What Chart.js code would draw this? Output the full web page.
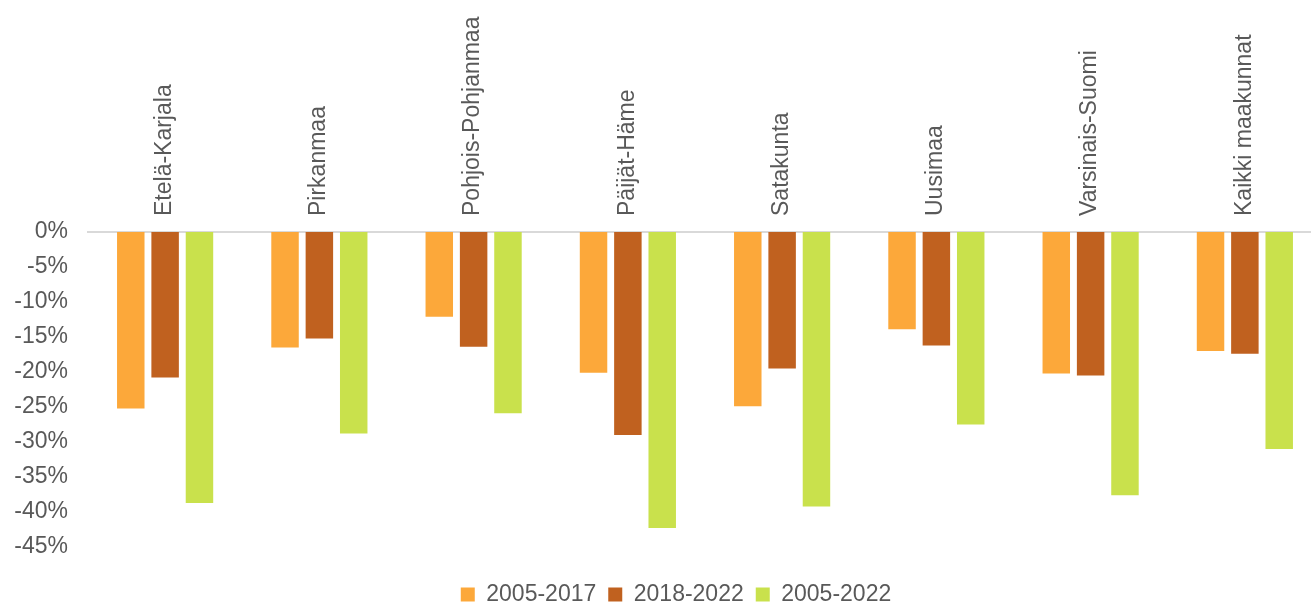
<!DOCTYPE html>
<html>
<head>
<meta charset="utf-8">
<script src="https://cdn.jsdelivr.net/npm/chart.js@4/dist/chart.umd.min.js"></script>
<style>
  html, body { margin: 0; padding: 0; background: #fff; overflow: hidden; }
  #wrap { width: 1352px; height: 616px; }
</style>
</head>
<body>
<div id="wrap"><canvas id="kaavio" width="1352" height="616"></canvas></div>
<script>
/* ---------- data ---------- */
const maakunnat = ['Etelä-Karjala', 'Pirkanmaa', 'Pohjois-Pohjanmaa', 'Päijät-Häme',
                   'Satakunta', 'Uusimaa', 'Varsinais-Suomi', 'Kaikki maakunnat'];
const sarjat = ['2005-2017', '2018-2022', '2005-2022'];
const muutos2005_2017 = [-25.2, -16.5, -12.1, -20.1, -24.9, -13.9, -20.2, -17.0];
const muutos2018_2022 = [-20.8, -15.2, -16.4, -29.0, -19.5, -16.2, -20.5, -17.4];
const muutos2005_2022 = [-38.7, -28.8, -25.9, -42.3, -39.2, -27.5, -37.6, -31.0];
const yTicks = [0, -5, -10, -15, -20, -25, -30, -35, -40, -45];

const varit = ['#FCA83A', '#C0611F', '#C9E14C'];
const fontti = { family: '"Liberation Sans", Arial, sans-serif', size: 23 };
const harmaa = '#595959';

const arvot = [muutos2005_2017, muutos2018_2022, muutos2005_2022];

new Chart(document.getElementById('kaavio'), {
  type: 'bar',
  data: {
    labels: maakunnat,
    datasets: sarjat.map((s, i) => ({
      label: s,
      data: arvot[i],
      backgroundColor: varit[i],
      borderWidth: 0,
      categoryPercentage: 0.668,
      barPercentage: 0.8
    }))
  },
  options: {
    responsive: false,
    animation: false,
    layout: { padding: 0 },
    plugins: {
      tooltip: { enabled: false },
      legend: {
        position: 'bottom',
        labels: { font: fontti, color: harmaa, boxWidth: 14, boxHeight: 14, padding: 12 }
      }
    },
    scales: {
      x: {
        position: 'top',
        grid: { display: false, drawTicks: false },
        border: { display: true, color: '#D9D9D9', width: 2 },
        ticks: { font: fontti, color: harmaa, minRotation: 90, maxRotation: 90, autoSkip: false,
                 padding: 16, labelOffset: 27 },
        afterFit(s) { s.height = 232; }
      },
      xAla: {
        type: 'category',
        position: 'bottom',
        grid: { display: false },
        border: { display: false },
        ticks: { display: false },
        afterFit(s) { s.height = 24; }
      },
      y: {
        min: -45,
        max: 0,
        grid: { display: false, drawTicks: false },
        border: { display: false },
        afterBuildTicks(s) { s.ticks = yTicks.map(v => ({ value: v })); },
        ticks: { font: fontti, color: harmaa, padding: 20, callback: v => v + '%' },
        afterFit(s) { s.width = 88; }
      },
      yOikea: {
        type: 'linear',
        position: 'right',
        grid: { display: false },
        border: { display: false },
        ticks: { display: false },
        afterFit(s) { s.width = 30; }
      }
    }
  }
});
</script>
</body>
</html>
